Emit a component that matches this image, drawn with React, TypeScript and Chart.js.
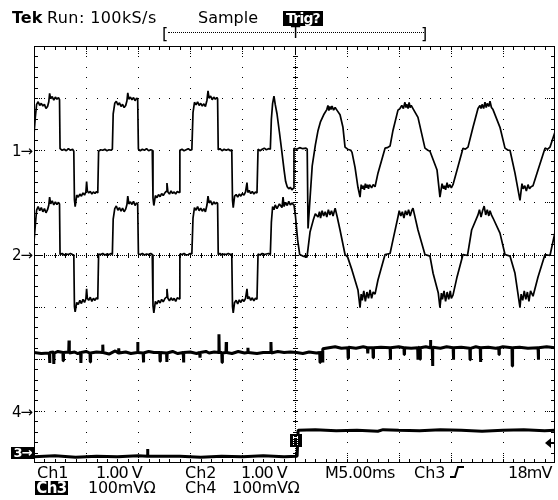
import React, { useEffect, useRef } from "react";
import { Chart, registerables } from "chart.js";

Chart.register(...registerables);

// ---- acquisition settings ----
const timeSpanMs = 50; // 10 div x 5.00 ms
const divisionsX = 10;
const divisionsY = 8;
const ch1VoltsPerDiv = 1;
const ch2VoltsPerDiv = 1;
const ch3MvPerDiv = 100;
const ch4MvPerDiv = 100;
const ch1Position = 2.0; // divisions from centre
const ch2Position = 0.0;
const ch3Position = -3.81;
const ch4Position = -3.0;
const triggerTimeMs = 25;
const triggerLevelMv = 18;

// ---- Ch1 trace: [time ms, volts] ----
const ch1Trace: [number, number][] = [
  [0.0, 0.3], [0.12, 0.62], [0.25, 0.88], [0.4, 0.93], [0.55, 0.86], [0.7, 0.9], [0.85, 0.85], [1.0, 0.88], [1.15, 0.8], [1.3, 0.84], [1.42, 0.93], [1.5, 1.09], [1.6, 0.99], [1.75, 1.03], [1.9, 0.96], [2.05, 1.02], [2.2, 0.98], [2.35, 1.01], [2.45, 0.97],
  [2.5, 0.03], [2.7, 0.0], [2.9, 0.02], [3.1, -0.01], [3.3, 0.03], [3.5, 0.0], [3.7, 0.02], [3.82, -0.02],
  [3.88, -0.95], [3.95, -1.08], [4.1, -0.86], [4.25, -0.9], [4.4, -0.84], [4.55, -0.88], [4.7, -0.82], [4.85, -0.86], [4.98, -0.8], [5.05, -0.6], [5.12, -0.78], [5.25, -0.82], [5.4, -0.79], [5.55, -0.84], [5.7, -0.8], [5.85, -0.83], [6.0, -0.79], [6.12, -0.82],
  [6.2, -0.02], [6.4, 0.01], [6.6, 0.0], [6.8, 0.02], [7.0, -0.01], [7.2, 0.01], [7.4, 0.0], [7.52, 0.02],
  [7.6, 0.7], [7.75, 0.9], [7.9, 0.94], [8.05, 0.87], [8.2, 0.91], [8.35, 0.84], [8.5, 0.88], [8.65, 0.82], [8.8, 0.86], [8.92, 0.95], [9.0, 1.1], [9.1, 0.98], [9.25, 1.02], [9.4, 0.97], [9.55, 1.01], [9.7, 0.95], [9.85, 1.0], [9.95, 0.98],
  [10.02, 0.02], [10.2, -0.01], [10.4, 0.02], [10.6, 0.0], [10.8, 0.03], [11.0, -0.01], [11.2, 0.01], [11.35, 0.0],
  [11.42, -0.92], [11.5, -1.06], [11.65, -0.87], [11.8, -0.91], [11.95, -0.85], [12.1, -0.89], [12.25, -0.83], [12.4, -0.87], [12.55, -0.82], [12.68, -0.79], [12.76, -0.63], [12.85, -0.8], [13.0, -0.84], [13.15, -0.78], [13.3, -0.83], [13.45, -0.8], [13.6, -0.84], [13.75, -0.79], [13.92, -0.81],
  [14.0, 0.0], [14.2, 0.02], [14.4, -0.01], [14.6, 0.01], [14.8, 0.03], [15.0, 0.0], [15.15, 0.01],
  [15.26, 0.72], [15.4, 0.92], [15.55, 0.87], [15.7, 0.93], [15.85, 0.86], [16.0, 0.9], [16.15, 0.85], [16.3, 0.89], [16.45, 0.84], [16.6, 0.96], [16.7, 1.14], [16.8, 1.0], [16.95, 1.04], [17.1, 0.97], [17.25, 1.02], [17.4, 0.98], [17.55, 1.01], [17.62, 0.99],
  [17.68, 0.01], [17.85, 0.03], [18.05, -0.01], [18.25, 0.02], [18.45, 0.0], [18.65, 0.02], [18.85, -0.01], [18.98, 0.01],
  [19.05, -0.96], [19.12, -1.1], [19.25, -0.88], [19.4, -0.85], [19.55, -0.9], [19.7, -0.84], [19.85, -0.88], [20.0, -0.83], [20.15, -0.86], [20.3, -0.8], [20.44, -0.62], [20.52, -0.81], [20.65, -0.77], [20.8, -0.83], [20.95, -0.79], [21.1, -0.84], [21.25, -0.8], [21.4, -0.82],
  [21.5, 0.02], [21.7, -0.01], [21.9, 0.02], [22.1, 0.04], [22.3, 0.01], [22.5, 0.03], [22.68, 0.02],
  [22.78, 0.6], [22.9, 0.9], [23.03, 1.04], [23.15, 0.88], [23.32, 0.7], [23.55, 0.35], [23.8, -0.05], [24.0, -0.38], [24.15, -0.6], [24.3, -0.7], [24.45, -0.74], [24.6, -0.71], [24.75, -0.76], [24.88, -0.73],
  [24.95, 0.04], [25.2, 0.02], [25.5, 0.05], [25.8, 0.03], [26.1, 0.04], [26.22, 0.02],
  [26.3, -1.5], [26.5, -0.9], [26.7, -0.3], [27.0, 0.1], [27.26, 0.38], [27.5, 0.55], [27.8, 0.68], [28.1, 0.78], [28.21, 0.86], [28.3, 0.76], [28.4, 0.84], [28.5, 0.78], [28.6, 0.85], [28.75, 0.77], [28.9, 0.82], [29.1, 0.76], [29.37, 0.68], [29.65, 0.44], [29.85, 0.06], [30.1, 0.02], [30.4, 0.0], [30.52, -0.04], [30.81, -0.33], [31.09, -0.71], [31.29, -0.9], [31.4, -0.66], [31.5, -0.74], [31.6, -0.68], [31.7, -0.76], [31.8, -0.64], [31.9, -0.72], [32.0, -0.66], [32.1, -0.74], [32.2, -0.66], [32.4, -0.72], [32.55, -0.66], [32.73, -0.7], [33.01, -0.44], [33.69, 0.04], [33.9, 0.05], [34.17, 0.08], [34.45, 0.38], [34.93, 0.77], [35.12, 0.8], [35.3, 0.86], [35.45, 0.8], [35.6, 0.92], [35.7, 0.82], [35.8, 0.88], [35.9, 0.8], [36.0, 0.92], [36.1, 0.82], [36.2, 0.86], [36.37, 0.8], [36.85, 0.63], [37.52, 0.04], [37.8, 0.0], [38.0, -0.02], [38.68, -0.38], [38.96, -0.9], [39.16, -0.64], [39.3, -0.74], [39.4, -0.68], [39.5, -0.76], [39.64, -0.62], [39.75, -0.72], [39.9, -0.66], [40.05, -0.72], [40.21, -0.66], [40.6, -0.38], [41.17, 0.04], [41.4, 0.02], [41.65, 0.06], [42.13, 0.44], [42.61, 0.8], [42.8, 0.86], [42.9, 0.8], [43.0, 0.88], [43.15, 0.8], [43.28, 0.92], [43.4, 0.82], [43.5, 0.9], [43.65, 0.84], [43.76, 0.94], [43.9, 0.82], [44.05, 0.78], [44.72, 0.44], [45.2, 0.04], [45.5, 0.0], [45.68, 0.0], [46.16, -0.44], [46.64, -0.96], [46.83, -0.64], [46.95, -0.74], [47.1, -0.68], [47.25, -0.78], [47.41, -0.66], [47.55, -0.74], [47.7, -0.7], [47.89, -0.68], [48.37, -0.38], [49.04, 0.04], [49.3, 0.02], [49.52, 0.06], [50.0, 0.35],
];

// ---- Ch2 trace: [time ms, volts] ----
const ch2Trace: [number, number][] = [
  [0.0, 0.25], [0.12, 0.55], [0.25, 0.85], [0.4, 0.92], [0.55, 0.84], [0.7, 0.9], [0.85, 0.82], [1.0, 0.88], [1.15, 0.8], [1.3, 0.86], [1.42, 0.95], [1.5, 1.1], [1.6, 0.97], [1.75, 1.03], [1.9, 0.95], [2.05, 1.01], [2.2, 0.96], [2.35, 1.0], [2.45, 0.97],
  [2.5, 0.0], [2.7, 0.02], [2.9, -0.01], [3.1, 0.01], [3.3, 0.0], [3.5, 0.02], [3.7, 0.0], [3.82, -0.01],
  [3.88, -1.0], [3.95, -1.1], [4.1, -0.92], [4.25, -0.96], [4.4, -0.88], [4.55, -0.94], [4.7, -0.86], [4.85, -0.92], [4.98, -0.85], [5.05, -0.66], [5.12, -0.84], [5.25, -0.88], [5.4, -0.82], [5.55, -0.9], [5.7, -0.84], [5.85, -0.88], [6.0, -0.83], [6.12, -0.86],
  [6.2, 0.01], [6.4, 0.0], [6.6, 0.02], [6.8, -0.01], [7.0, 0.01], [7.2, 0.0], [7.4, 0.02], [7.52, 0.0],
  [7.6, 0.68], [7.75, 0.88], [7.9, 0.93], [8.05, 0.85], [8.2, 0.9], [8.35, 0.83], [8.5, 0.89], [8.65, 0.82], [8.8, 0.87], [8.92, 0.96], [9.0, 1.12], [9.1, 0.97], [9.25, 1.01], [9.4, 0.96], [9.55, 1.02], [9.7, 0.94], [9.85, 0.99], [9.95, 0.97],
  [10.02, 0.01], [10.2, 0.0], [10.4, 0.02], [10.6, -0.01], [10.8, 0.01], [11.0, 0.0], [11.2, 0.02], [11.35, 0.0],
  [11.42, -0.98], [11.5, -1.12], [11.65, -0.9], [11.8, -0.95], [11.95, -0.88], [12.1, -0.93], [12.25, -0.86], [12.4, -0.91], [12.55, -0.85], [12.68, -0.82], [12.76, -0.66], [12.85, -0.84], [13.0, -0.89], [13.15, -0.83], [13.3, -0.88], [13.45, -0.84], [13.6, -0.9], [13.75, -0.83], [13.92, -0.85],
  [14.0, 0.01], [14.2, 0.0], [14.4, 0.02], [14.6, -0.01], [14.8, 0.0], [15.0, 0.02], [15.15, 0.01],
  [15.26, 0.7], [15.4, 0.9], [15.55, 0.85], [15.7, 0.92], [15.85, 0.84], [16.0, 0.89], [16.15, 0.83], [16.3, 0.88], [16.45, 0.82], [16.6, 0.95], [16.7, 1.12], [16.8, 0.99], [16.95, 1.03], [17.1, 0.95], [17.25, 1.01], [17.4, 0.97], [17.55, 1.0], [17.62, 0.98],
  [17.68, 0.0], [17.85, 0.02], [18.05, -0.01], [18.25, 0.01], [18.45, 0.0], [18.65, 0.02], [18.85, 0.0], [18.98, 0.01],
  [19.05, -1.0], [19.12, -1.12], [19.25, -0.92], [19.4, -0.88], [19.55, -0.95], [19.7, -0.87], [19.85, -0.92], [20.0, -0.86], [20.15, -0.9], [20.3, -0.84], [20.44, -0.66], [20.52, -0.85], [20.65, -0.81], [20.8, -0.88], [20.95, -0.83], [21.1, -0.89], [21.25, -0.84], [21.4, -0.86],
  [21.5, 0.01], [21.7, -0.01], [21.9, 0.02], [22.1, 0.0], [22.3, 0.01], [22.5, 0.02], [22.68, 0.0],
  [22.78, 0.62], [22.9, 0.92], [23.03, 0.86], [23.15, 0.95], [23.32, 0.88], [23.55, 0.97], [23.8, 0.9], [23.9, 1.1], [24.0, 0.92], [24.15, 1.0], [24.3, 0.94], [24.45, 1.02], [24.6, 0.95], [24.75, 0.99], [24.88, 0.96],
  [24.95, 0.95], [25.1, 0.72], [25.3, 0.28], [25.5, 0.0], [25.8, -0.03], [26.2, -0.05], [26.49, 0.43], [26.8, 0.66], [27.0, 0.78], [27.26, 0.72], [27.4, 0.82], [27.5, 0.7], [27.65, 0.84], [27.8, 0.74], [27.95, 0.82], [28.1, 0.72], [28.25, 0.86], [28.4, 0.76], [28.55, 0.84], [28.7, 0.74], [28.9, 0.89], [29.1, 0.72], [29.37, 0.47], [29.85, 0.0], [30.1, -0.05], [30.52, -0.3], [31.09, -0.68], [31.29, -1.02], [31.4, -0.76], [31.5, -0.88], [31.65, -0.7], [31.8, -0.9], [31.95, -0.72], [32.1, -0.84], [32.25, -0.68], [32.4, -0.84], [32.55, -0.72], [32.73, -0.76], [33.01, -0.49], [33.69, 0.0], [34.17, 0.02], [34.45, 0.28], [34.93, 0.72], [35.05, 0.84], [35.2, 0.74], [35.35, 0.82], [35.5, 0.7], [35.65, 0.84], [35.8, 0.76], [35.95, 0.86], [36.1, 0.74], [36.25, 0.84], [36.37, 0.89], [36.85, 0.47], [37.52, 0.0], [38.0, -0.03], [38.3, -0.36], [38.8, -0.74], [38.96, -1.02], [39.1, -0.74], [39.2, -0.86], [39.35, -0.7], [39.5, -0.9], [39.65, -0.72], [39.8, -0.86], [39.95, -0.7], [40.05, -0.84], [40.21, -0.78], [40.6, -0.43], [41.17, 0.0], [41.6, -0.02], [42.0, 0.47], [42.61, 0.76], [42.75, 0.86], [42.9, 0.72], [43.05, 0.84], [43.2, 0.93], [43.35, 0.76], [43.5, 0.86], [43.65, 0.74], [43.76, 0.84], [43.9, 0.76], [44.05, 0.7], [44.72, 0.41], [45.2, 0.0], [45.68, -0.03], [46.16, -0.36], [46.64, -1.02], [46.75, -0.76], [46.9, -0.88], [47.05, -0.7], [47.2, -0.86], [47.35, -0.72], [47.5, -0.9], [47.65, -0.7], [47.89, -0.8], [48.37, -0.43], [49.04, 0.0], [49.52, -0.02], [50.0, 0.43],
];

// ---- Ch3 trace: [time ms, millivolts] ----
const ch3Trace: [number, number][] = [
  [0, -7], [2, -5], [4, -8], [6, -6], [8, -7], [10, -5], [10.87, -6], [10.9, 8], [10.93, -6], [14, -6], [16, -8], [18, -6], [20, -7], [22, -5], [24, -7], [25.25, -6],
  [25.35, 44], [27, 45], [29, 43], [31, 44], [33, 42], [33.5, 45], [35, 44], [37, 43], [39, 45], [41, 44], [43, 42], [45, 44], [47, 45], [49, 43], [50, 44],
];

// ---- Ch4 trace: [time ms, millivolts] ----
const ch4Trace: [number, number][] = [
  [0, 112], [0.7, 110], [1.47, 111], [1.5, 92], [1.53, 112], [1.87, 113], [1.9, 90], [1.93, 111], [2.3, 114], [2.77, 112], [2.8, 96], [2.83, 112], [3.33, 113], [3.36, 135], [3.39, 111], [3.9, 113], [4.2, 110], [4.47, 112], [4.5, 92], [4.53, 112], [5.0, 114], [5.37, 111], [5.4, 94], [5.43, 111], [6.0, 113], [6.57, 112], [6.6, 127], [6.63, 112], [7.2, 109], [7.8, 115], [8.1, 111], [8.13, 120], [8.16, 111], [8.8, 113], [9.3, 110], [9.92, 112], [9.95, 132], [9.98, 112], [10.47, 111], [10.5, 93], [10.53, 111], [11.0, 114], [11.5, 112], [12.07, 112], [12.1, 95], [12.13, 112], [12.72, 111], [12.75, 94], [12.78, 111], [13.3, 114], [13.8, 110], [14.32, 112], [14.35, 93], [14.38, 112], [15.0, 113], [15.6, 110], [15.9, 112], [15.93, 102], [15.96, 112], [16.5, 114], [16.8, 111], [17.3, 113], [17.72, 112], [17.75, 147], [17.78, 112], [18.02, 112], [18.05, 93], [18.08, 111], [18.42, 112], [18.45, 132], [18.48, 112], [19.0, 110], [19.6, 114], [20.2, 111], [20.5, 112], [20.53, 121], [20.56, 112], [21.4, 110], [22.0, 112], [22.71, 112], [22.74, 132], [22.77, 111], [23.4, 114], [24.0, 112], [24.6, 113], [25.2, 112], [25.8, 110], [26.4, 113], [27.1, 111], [27.42, 112], [27.45, 93], [27.48, 112], [27.67, 112], [27.7, 93], [27.73, 119],
  [28.3, 121], [28.9, 123], [29.5, 120], [30.12, 121], [30.15, 101], [30.18, 122], [30.9, 120], [31.6, 123], [32.0, 121], [32.03, 110], [32.06, 121], [32.52, 121], [32.55, 102], [32.58, 121], [33.3, 122], [34.17, 121], [34.2, 98], [34.23, 121], [35.0, 123], [35.5, 121], [35.53, 108], [35.56, 121], [36.2, 120], [36.82, 121], [36.85, 98], [36.88, 122], [37.02, 121], [37.05, 99], [37.08, 121], [37.6, 123], [38.02, 121], [38.05, 136], [38.08, 121], [38.22, 121], [38.25, 86], [38.28, 122], [39.0, 120], [39.6, 123], [40.22, 121], [40.25, 98], [40.28, 121], [41.0, 122], [41.82, 120], [41.85, 98], [41.88, 120], [42.4, 123], [42.82, 121], [42.85, 94], [42.88, 121], [43.6, 122], [44.3, 120], [44.6, 121], [44.63, 108], [44.66, 121], [45.0, 123], [45.87, 121], [45.9, 86], [45.93, 121], [46.6, 122], [47.4, 120], [48.37, 121], [48.4, 98], [48.43, 121], [49.2, 123], [50, 121],
];

const toPoints = (trace: [number, number][], position: number, perDiv: number) =>
  trace.map(([t, v]) => ({ x: t, y: position + v / perDiv }));

const graticulePlugin = {
  id: "graticule",
  beforeDatasetsDraw(chart: any) {
    const { ctx, chartArea: a } = chart;
    const L = Math.round(a.left);
    const T = Math.round(a.top);
    const R = Math.round(a.right) - 1;
    const B = Math.round(a.bottom) - 1;
    const dx = (a.right - a.left) / divisionsX;
    const dy = (a.bottom - a.top) / divisionsY;
    const dot = (x: number, y: number, w = 1, h = 1) => ctx.fillRect(Math.round(x), Math.round(y), w, h);
    ctx.save();
    ctx.fillStyle = "#000";
    // frame
    ctx.fillRect(L, T, R - L + 1, 1);
    ctx.fillRect(L, B, R - L + 1, 1);
    ctx.fillRect(L, T, 1, B - T + 1);
    ctx.fillRect(R, T, 1, B - T + 1);
    // dotted division lines
    for (let i = 1; i < divisionsX; i++) {
      const x = a.left + i * dx;
      for (let k = 1; k < divisionsY * 5; k++) dot(x, a.top + (k * dy) / 5);
    }
    for (let j = 1; j < divisionsY; j++) {
      const y = a.top + j * dy;
      for (let k = 1; k < divisionsX * 5; k++) dot(a.left + (k * dx) / 5, y);
    }
    // frame minor ticks
    for (let k = 1; k < divisionsX * 5; k++) {
      const x = a.left + (k * dx) / 5;
      dot(x, T + 1, 1, 3);
      dot(x, B - 3, 1, 3);
      if (k % 5 === 0) {
        for (let s = 5; s < 9; s += 2) { dot(x, T + s); dot(x, B - s); }
      }
    }
    for (let k = 1; k < divisionsY * 5; k++) {
      const y = a.top + (k * dy) / 5;
      dot(L + 1, y, 3, 1);
      dot(R - 3, y, 3, 1);
      if (k % 5 === 0) {
        for (let s = 5; s < 9; s += 2) { dot(L + s, y); dot(R - s, y); }
      }
    }
    // centre axes with fine dots and ticks
    const cx = a.left + (divisionsX / 2) * dx;
    const cy = a.top + (divisionsY / 2) * dy;
    for (let y = T; y <= B; y += 2) dot(cx, y);
    for (let x = L; x <= R; x += 2) dot(x, cy);
    for (let k = 1; k < divisionsY * 5; k++) dot(cx - 2, a.top + (k * dy) / 5, 5, 1);
    for (let k = 1; k < divisionsX * 5; k++) dot(a.left + (k * dx) / 5, cy - 2, 1, 5);
    ctx.restore();
  },
};

const markerPlugin = {
  id: "markers",
  afterDatasetsDraw(chart: any) {
    const { ctx, scales } = chart;
    const x = Math.round(scales.x.getPixelForValue(triggerTimeMs));
    const yTrig = Math.round(scales.y.getPixelForValue(ch3Position + triggerLevelMv / ch3MvPerDiv));
    ctx.save();
    // trigger point box
    ctx.fillStyle = "#000";
    ctx.fillRect(x - 5, yTrig - 10, 12, 13);
    ctx.fillStyle = "#fff";
    for (let yy = yTrig - 8; yy < yTrig + 2; yy += 2) {
      ctx.fillRect(x - 2, yy, 1, 1);
      ctx.fillRect(x + 2, yy, 1, 1);
    }
    ctx.fillRect(x - 2, yTrig - 7, 5, 1);
    // trigger level arrow at right
    const rx = Math.round(chart.chartArea.right);
    ctx.fillStyle = "#000";
    ctx.beginPath();
    ctx.moveTo(rx - 10, yTrig - 1);
    ctx.lineTo(rx - 4, yTrig - 6);
    ctx.lineTo(rx - 4, yTrig + 4);
    ctx.closePath();
    ctx.fill();
    ctx.fillRect(rx - 5, yTrig - 2, 5, 2);
    // rising edge slope symbol in readout
    ctx.strokeStyle = "#000";
    ctx.lineWidth = 2;
    ctx.beginPath();
    ctx.moveTo(450, 477);
    ctx.lineTo(455, 477);
    ctx.lineTo(458, 467);
    ctx.lineTo(464, 467);
    ctx.stroke();
    ctx.restore();
  },
};

const txt: React.CSSProperties = {
  position: "absolute",
  whiteSpace: "nowrap",
  fontSize: 16,
  lineHeight: "16px",
  color: "#000",
};

const inv: React.CSSProperties = {
  position: "absolute",
  background: "#000",
  color: "#fff",
  fontWeight: "bold",
  whiteSpace: "nowrap",
  textAlign: "center",
  overflow: "hidden",
};

export default function App() {
  const canvasRef = useRef<HTMLCanvasElement>(null);

  useEffect(() => {
    const canvas = canvasRef.current;
    if (!canvas) return;
    const chart = new Chart(canvas, {
      type: "line",
      data: {
        datasets: [
          { label: "Ch1", data: toPoints(ch1Trace, ch1Position, ch1VoltsPerDiv), borderColor: "#000", borderWidth: 1.7 },
          { label: "Ch2", data: toPoints(ch2Trace, ch2Position, ch2VoltsPerDiv), borderColor: "#000", borderWidth: 1.7 },
          { label: "Ch3", data: toPoints(ch3Trace, ch3Position, ch3MvPerDiv), borderColor: "#000", borderWidth: 3 },
          { label: "Ch4", data: toPoints(ch4Trace, ch4Position, ch4MvPerDiv), borderColor: "#000", borderWidth: 3 },
        ],
      },
      options: {
        animation: false,
        responsive: false,
        maintainAspectRatio: false,
        events: [],
        layout: { padding: { left: 34, top: 46, right: 3, bottom: 37 } },
        elements: { point: { radius: 0 }, line: { tension: 0, borderJoinStyle: "bevel" } },
        scales: {
          x: { type: "linear", min: 0, max: timeSpanMs, display: false },
          y: { type: "linear", min: -divisionsY / 2, max: divisionsY / 2, display: false },
        },
        plugins: { legend: { display: false }, tooltip: { enabled: false } },
      },
      plugins: [graticulePlugin, markerPlugin],
    });
    return () => chart.destroy();
  }, []);

  return (
    <div
      style={{
        position: "absolute",
        left: 0,
        top: 0,
        width: 558,
        height: 500,
        background: "#fff",
        fontFamily: '"DejaVu Sans", sans-serif',
        overflow: "hidden",
      }}
    >
      <canvas ref={canvasRef} width={558} height={500} style={{ position: "absolute", left: 0, top: 0, width: 558, height: 500 }} />

      {/* status line */}
      <div style={{ ...txt, left: 12, top: 10, fontWeight: "bold" }}>Tek</div>
      <div style={{ ...txt, left: 47, top: 10, letterSpacing: 0.4 }}>Run: 100kS/s</div>
      <div style={{ ...txt, left: 198, top: 10 }}>Sample</div>
      <div style={{ ...inv, left: 283, top: 11, width: 40, height: 15, fontSize: 14, lineHeight: "15px", letterSpacing: -0.8 }}>Trig?</div>

      {/* record view bracket */}
      <div style={{ ...txt, left: 162, top: 26 }}>[</div>
      <div style={{ position: "absolute", left: 168, top: 32, width: 256, borderTop: "1px dotted #000" }} />
      <div style={{ ...txt, left: 291, top: 25, fontSize: 15 }}>T</div>
      <div style={{ ...txt, left: 421, top: 26 }}>]</div>

      {/* channel ground markers */}
      <div style={{ ...txt, left: 12, top: 143, fontSize: 15, letterSpacing: -1 }}>1→</div>
      <div style={{ ...txt, left: 12, top: 247, fontSize: 15, letterSpacing: -1 }}>2→</div>
      <div style={{ ...txt, left: 12, top: 404, fontSize: 15, letterSpacing: -1 }}>4→</div>
      <div style={{ ...inv, left: 11, top: 447, width: 23, height: 12, fontSize: 13, lineHeight: "12px", letterSpacing: -1 }}>3→</div>

      {/* readout line 1 */}
      <div style={{ ...txt, left: 37, top: 465 }}>Ch1</div>
      <div style={{ ...txt, left: 96, top: 465, letterSpacing: -1 }}>1.00 V</div>
      <div style={{ ...txt, left: 185, top: 465 }}>Ch2</div>
      <div style={{ ...txt, left: 241, top: 465, letterSpacing: -1 }}>1.00 V</div>
      <div style={{ ...txt, left: 325, top: 465, letterSpacing: -0.5 }}>M5.00ms</div>
      <div style={{ ...txt, left: 414, top: 465 }}>Ch3</div>
      <div style={{ ...txt, left: 508, top: 465, letterSpacing: -0.8 }}>18mV</div>

      {/* readout line 2 */}
      <div style={{ ...inv, left: 35, top: 481, width: 33, height: 14, fontSize: 15, lineHeight: "14px", letterSpacing: -0.5 }}>Ch3</div>
      <div style={{ ...txt, left: 88, top: 480, letterSpacing: -0.3 }}>100mVΩ</div>
      <div style={{ ...txt, left: 185, top: 480 }}>Ch4</div>
      <div style={{ ...txt, left: 232, top: 480, letterSpacing: -0.3 }}>100mVΩ</div>
    </div>
  );
}
